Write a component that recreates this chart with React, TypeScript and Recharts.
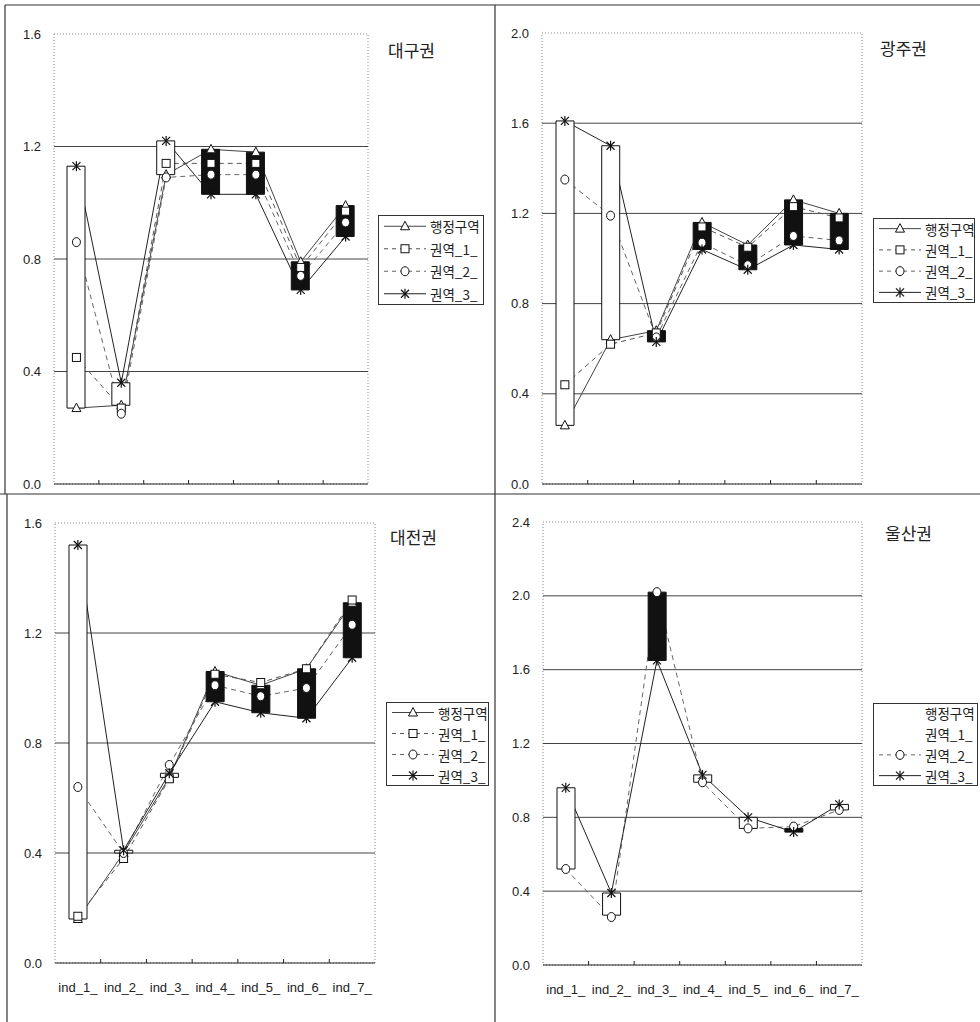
import React from "react";
import {
  ComposedChart,
  Bar,
  Line,
  XAxis,
  YAxis,
  Cell,
  ReferenceLine,
  ReferenceArea,
} from "recharts";

const categories = ["ind_1_", "ind_2_", "ind_3_", "ind_4_", "ind_5_", "ind_6_", "ind_7_"];
const seriesNames = ["행정구역", "권역_1_", "권역_2_", "권역_3_"];

// 대구권
const daeguAdmin = [0.27, 0.28, 1.1, 1.19, 1.18, 0.79, 0.99];
const daeguR1 = [0.45, 0.27, 1.14, 1.14, 1.14, 0.77, 0.97];
const daeguR2 = [0.86, 0.25, 1.09, 1.1, 1.1, 0.74, 0.93];
const daeguR3 = [1.13, 0.36, 1.22, 1.03, 1.03, 0.69, 0.88];
const daeguTicks = [0, 0.4, 0.8, 1.2, 1.6];

// 광주권
const gwangjuAdmin = [0.26, 0.64, 0.68, 1.16, 1.06, 1.26, 1.2];
const gwangjuR1 = [0.44, 0.62, 0.67, 1.14, 1.05, 1.23, 1.18];
const gwangjuR2 = [1.35, 1.19, 0.65, 1.07, 0.97, 1.1, 1.08];
const gwangjuR3 = [1.61, 1.5, 0.63, 1.04, 0.95, 1.06, 1.04];
const gwangjuTicks = [0, 0.4, 0.8, 1.2, 1.6, 2.0];

// 대전권
const daejeonAdmin = [0.16, 0.4, 0.675, 1.06, 1.01, 1.07, 1.31];
const daejeonR1 = [0.17, 0.38, 0.67, 1.05, 1.02, 1.07, 1.32];
const daejeonR2 = [0.64, 0.4, 0.72, 1.01, 0.97, 1.0, 1.23];
const daejeonR3 = [1.52, 0.41, 0.69, 0.95, 0.91, 0.89, 1.11];
const daejeonTicks = [0, 0.4, 0.8, 1.2, 1.6];

// 울산권 (행정구역 / 권역_1 have no visible marker or line)
const ulsanAdmin = [0.52, 0.27, 2.02, 0.99, 0.74, 0.74, 0.84];
const ulsanR1: (number | null)[] = [null, null, null, null, null, null, null];
const ulsanR2 = [0.52, 0.26, 2.02, 0.99, 0.74, 0.75, 0.84];
const ulsanR3 = [0.96, 0.39, 1.65, 1.03, 0.8, 0.72, 0.87];
const ulsanTicks = [0, 0.4, 0.8, 1.2, 1.6, 2.0, 2.4];

const NUM_FONT = "'Liberation Sans', Arial, sans-serif";
const KR_FONT = "'Noto Sans CJK KR', 'Liberation Sans', sans-serif";

type Kind = "tri" | "sq" | "ci" | "st";
const SERIES_STYLE: { kind: Kind; stroke: string; dash?: string }[] = [
  { kind: "tri", stroke: "#444" },
  { kind: "sq", stroke: "#555", dash: "5 4" },
  { kind: "ci", stroke: "#666", dash: "5 4" },
  { kind: "st", stroke: "#222" },
];

function marker(kind: Kind, cx: number, cy: number) {
  const ink = "#111";
  if (kind === "tri")
    return (
      <path
        d={`M${cx},${cy - 5} L${cx + 4.5},${cy + 3.5} L${cx - 4.5},${cy + 3.5} Z`}
        fill="#fff"
        stroke={ink}
      />
    );
  if (kind === "sq")
    return <rect x={cx - 4} y={cy - 4} width={8} height={8} fill="#fff" stroke={ink} />;
  if (kind === "ci") return <ellipse cx={cx} cy={cy} rx={4} ry={4.5} fill="#fff" stroke={ink} />;
  return (
    <g stroke={ink} strokeWidth={1.2}>
      <line x1={cx} y1={cy - 5} x2={cx} y2={cy + 5} />
      <line x1={cx - 4} y1={cy - 4} x2={cx + 4} y2={cy + 4} />
      <line x1={cx + 4} y1={cy - 4} x2={cx - 4} y2={cy + 4} />
    </g>
  );
}

function buildRows(series: (number | null)[][]) {
  return categories.map((name, i) => {
    const open = series[0][i] as number;
    const close = series[3][i] as number;
    return {
      name,
      s0: series[0][i],
      s1: series[1][i],
      s2: series[2][i],
      s3: series[3][i],
      range: [Math.min(open, close), Math.max(open, close)],
      up: close >= open,
    };
  });
}

type Layout = {
  left: number;
  top: number;
  width: number;
  height: number;
  marginTop: number;
  yWidth: number;
  xHeight: number;
};

type PanelProps = {
  title: string;
  series: (number | null)[][];
  ticks: number[];
  hidden: number[];
  showLabels: boolean;
  layout: Layout;
  titlePos: { left: number; top: number };
  legend: { left: number; top: number; width: number; height: number };
};

function CategoryTick(props: any) {
  const { x, y, payload, index, showLabel } = props;
  const off = payload?.offset ?? 0;
  return (
    <g>
      {index > 0 && (
        <line x1={x - off} x2={x - off} y1={y} y2={y - 4} stroke="#222" strokeWidth={1} />
      )}
      {showLabel && (
        <text
          x={x}
          y={y + 24}
          textAnchor="middle"
          dominantBaseline="central"
          fontSize={13}
          fontFamily={NUM_FONT}
          fill="#222"
        >
          {payload.value}
        </text>
      )}
    </g>
  );
}

function LegendBox({ box, hidden }: { box: PanelProps["legend"]; hidden: number[] }) {
  const rowH = box.height / 4;
  return (
    <svg
      style={{ position: "absolute", left: box.left, top: box.top }}
      width={box.width}
      height={box.height}
    >
      <rect
        x={0.5}
        y={0.5}
        width={box.width - 1}
        height={box.height - 1}
        fill="#fff"
        stroke="#333"
      />
      {seriesNames.map((n, i) => {
        const cy = rowH * (i + 0.5);
        const st = SERIES_STYLE[i];
        return (
          <g key={n}>
            {!hidden.includes(i) && (
              <g>
                <line
                  x1={6}
                  x2={48}
                  y1={cy}
                  y2={cy}
                  stroke={st.stroke}
                  strokeDasharray={st.dash ? "4 4" : undefined}
                />
                {marker(st.kind, 27, cy)}
              </g>
            )}
            <text
              x={52}
              y={cy}
              dominantBaseline="central"
              fontSize={13.5}
              fontFamily={KR_FONT}
              fill="#222"
            >
              {n}
            </text>
          </g>
        );
      })}
    </svg>
  );
}

function Panel(p: PanelProps) {
  const data = buildRows(p.series);
  const max = p.ticks[p.ticks.length - 1];
  const L = p.layout;
  const visible = [0, 1, 2, 3].filter((i) => !p.hidden.includes(i));
  return (
    <>
      <div style={{ position: "absolute", left: L.left, top: L.top }}>
        <ComposedChart
          width={L.width}
          height={L.height}
          data={data}
          margin={{ top: L.marginTop, right: 12, left: 0, bottom: 0 }}
        >
          <ReferenceArea
            y1={0}
            y2={max}
            fill="none"
            stroke="#888"
            strokeDasharray="1 2"
            zIndex={-60}
            ifOverflow="visible"
          />
          {p.ticks.slice(1, -1).map((t) => (
            <ReferenceLine key={t} y={t} stroke="#444" strokeWidth={1} zIndex={-50} />
          ))}
          <XAxis
            dataKey="name"
            type="category"
            interval={0}
            height={L.xHeight}
            tickLine={false}
            tickSize={0}
            tickMargin={0}
            axisLine={{ stroke: "#222" }}
            tick={(tp: any) => <CategoryTick {...tp} showLabel={p.showLabels} />}
          />
          <YAxis
            type="number"
            domain={[0, max]}
            ticks={p.ticks}
            width={L.yWidth}
            axisLine={false}
            tickLine={false}
            tickSize={6}
            tickMargin={7}
            tickFormatter={(v: number) => v.toFixed(1)}
            tick={{ fontSize: 13, fill: "#222", fontFamily: NUM_FONT }}
          />
          {visible.map((i) => (
            <Line
              key={`line-${i}`}
              dataKey={`s${i}`}
              type="linear"
              stroke={SERIES_STYLE[i].stroke}
              strokeWidth={1}
              strokeDasharray={SERIES_STYLE[i].dash}
              dot={false}
              activeDot={false}
              isAnimationActive={false}
              zIndex={250}
            />
          ))}
          <Bar dataKey="range" barSize={18} isAnimationActive={false} stroke="#111" strokeWidth={1}>
            {data.map((d) => (
              <Cell key={d.name} fill={d.up ? "#fff" : "#111"} stroke="#111" />
            ))}
          </Bar>
          {visible.map((i) => (
            <Line
              key={`dot-${i}`}
              dataKey={`s${i}`}
              type="linear"
              stroke="none"
              activeDot={false}
              isAnimationActive={false}
              zIndex={450}
              dot={(dp: any) =>
                dp.value == null || dp.cy == null ? (
                  <g key={`d${i}-${dp.index}`} />
                ) : (
                  <g key={`d${i}-${dp.index}`}>{marker(SERIES_STYLE[i].kind, dp.cx, dp.cy)}</g>
                )
              }
            />
          ))}
        </ComposedChart>
      </div>
      <div
        style={{
          position: "absolute",
          left: p.titlePos.left,
          top: p.titlePos.top,
          fontFamily: KR_FONT,
          fontSize: 17,
          lineHeight: "20px",
          color: "#222",
          whiteSpace: "nowrap",
        }}
      >
        {p.title}
      </div>
      <LegendBox box={p.legend} hidden={p.hidden} />
    </>
  );
}

function Frame() {
  return (
    <svg style={{ position: "absolute", left: 0, top: 0 }} width={980} height={1022}>
      <g stroke="#333" strokeWidth={1.2}>
        <line x1={5} y1={5} x2={980} y2={5} />
        <line x1={5} y1={5} x2={5} y2={494} />
        <line x1={0} y1={494} x2={980} y2={494} />
        <line x1={495} y1={5} x2={495} y2={1022} />
        <line x1={7} y1={494} x2={7} y2={1022} />
      </g>
    </svg>
  );
}

export default function App() {
  return (
    <div
      style={{
        position: "absolute",
        left: 0,
        top: 0,
        width: 980,
        height: 1022,
        background: "#fff",
        overflow: "hidden",
      }}
    >
      <Frame />
      <Panel
        title="대구권"
        series={[daeguAdmin, daeguR1, daeguR2, daeguR3]}
        ticks={daeguTicks}
        hidden={[]}
        showLabels={false}
        layout={{ left: 0, top: 0, width: 380, height: 494, marginTop: 34, yWidth: 54, xHeight: 10 }}
        titlePos={{ left: 388, top: 40 }}
        legend={{ left: 378, top: 215, width: 106, height: 90 }}
      />
      <Panel
        title="광주권"
        series={[gwangjuAdmin, gwangjuR1, gwangjuR2, gwangjuR3]}
        ticks={gwangjuTicks}
        hidden={[]}
        showLabels={false}
        layout={{ left: 490, top: 0, width: 384, height: 494, marginTop: 33, yWidth: 52, xHeight: 10 }}
        titlePos={{ left: 880, top: 38 }}
        legend={{ left: 873, top: 218, width: 102, height: 85 }}
      />
      <Panel
        title="대전권"
        series={[daejeonAdmin, daejeonR1, daejeonR2, daejeonR3]}
        ticks={daejeonTicks}
        hidden={[]}
        showLabels={true}
        layout={{ left: 0, top: 494, width: 387, height: 509, marginTop: 29, yWidth: 55, xHeight: 40 }}
        titlePos={{ left: 390, top: 527 }}
        legend={{ left: 386, top: 702, width: 103, height: 84 }}
      />
      <Panel
        title="울산권"
        series={[ulsanAdmin, ulsanR1, ulsanR2, ulsanR3]}
        ticks={ulsanTicks}
        hidden={[0, 1]}
        showLabels={true}
        layout={{ left: 490, top: 494, width: 384, height: 511, marginTop: 28, yWidth: 53, xHeight: 40 }}
        titlePos={{ left: 885, top: 523 }}
        legend={{ left: 873, top: 703, width: 105, height: 83 }}
      />
    </div>
  );
}
